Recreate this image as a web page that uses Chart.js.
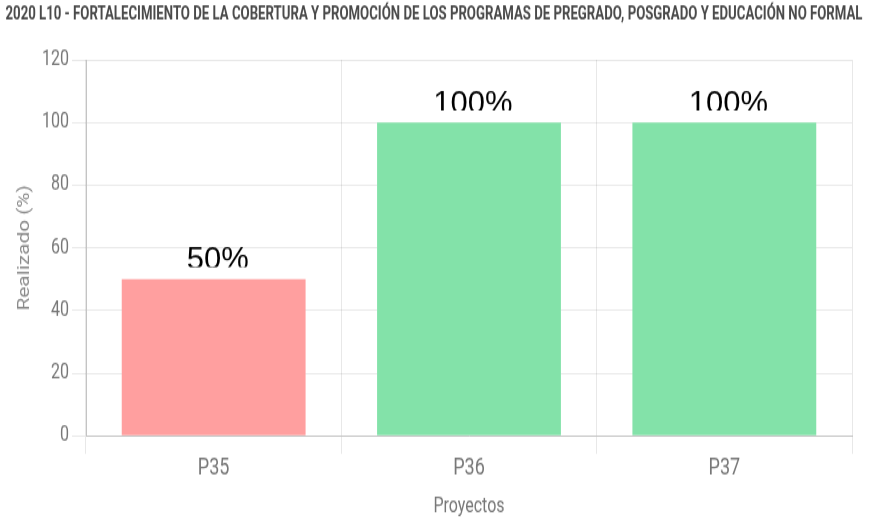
<!DOCTYPE html>
<html lang="es">
<head>
    <meta charset="UTF-8">
    <title>2020 L10 - Realizado por proyecto</title>
    <style>
        html {
            overflow: hidden;
        }
        body {
            margin: 0;
            padding: 0;
            background: #fff;
            height: 520px;
        }
        /* the reference picture is the chart stretched vertically, so draw at 400px and stretch */
        #chart-container {
            width: 876px;
            height: 400px;
            transform: scaleY(1.3);
            transform-origin: 0 0;
        }
    </style>
</head>
<body>
    <div id="chart-container">
        <canvas id="chart"></canvas>
    </div>

    <script src="https://cdn.jsdelivr.net/npm/chart.js"></script>
    <script>
        const chartTitle = '2020 L10 - FORTALECIMIENTO DE LA COBERTURA Y PROMOCIÓN DE LOS PROGRAMAS DE PREGRADO, POSGRADO Y EDUCACIÓN NO FORMAL';
        const categories = ['P35', 'P36', 'P37'];
        const realizado = [50, 100, 100];
        const yMin = 0;
        const yMax = 120;
        const yStep = 20;
        const xTitle = 'Proyectos';
        const yTitle = 'Realizado (%)';

        const barColors = ['#ff9f9f', '#83e2a9', '#83e2a9'];
        const stretch = 1.3;

        // title drawn condensed to fit the width, like the reference
        const condensedTitle = {
            id: 'condensedTitle',
            afterDraw(chart) {
                const ctx = chart.ctx;
                ctx.save();
                ctx.font = 'bold 14px Roboto';
                const w = ctx.measureText(chartTitle).width;
                const sx = Math.min(1, 857 / w);
                ctx.translate(chart.width / 2 - 4, 11.5);
                ctx.scale(sx, 1);
                ctx.textAlign = 'center';
                ctx.textBaseline = 'middle';
                ctx.fillStyle = '#4a4a4a';
                ctx.fillText(chartTitle, 0, 0);
                ctx.restore();
            }
        };

        // percentage labels above the bars (un-stretched, bottoms cut off)
        const valueLabels = {
            id: 'valueLabels',
            afterDatasetsDraw(chart) {
                const ctx = chart.ctx;
                const meta = chart.getDatasetMeta(0);
                meta.data.forEach((bar, i) => {
                    ctx.save();
                    ctx.translate(bar.x, bar.y);
                    ctx.scale(1, 1 / stretch);
                    ctx.beginPath();
                    ctx.rect(-80, -70, 160, 58);
                    ctx.clip();
                    ctx.font = '31px "Liberation Sans", Arial, sans-serif';
                    ctx.fillStyle = '#000';
                    ctx.textAlign = 'center';
                    ctx.textBaseline = 'alphabetic';
                    ctx.fillText(realizado[i] + '%', 4, -10);
                    ctx.restore();
                });
            }
        };

        const ctx = document.getElementById('chart').getContext('2d');
        const chart = new Chart(ctx, {
            type: 'bar',
            data: {
                labels: categories,
                datasets: [{
                    label: 'Realizado',
                    data: realizado,
                    backgroundColor: barColors,
                    borderWidth: 0
                }]
            },
            options: {
                responsive: true,
                maintainAspectRatio: false,
                animation: false,
                layout: {
                    padding: { top: 46, right: 24, bottom: 0, left: 15 }
                },
                plugins: {
                    legend: { display: false },
                    title: { display: false },
                    tooltip: { enabled: false }
                },
                scales: {
                    x: {
                        grid: {
                            color: 'rgba(0,0,0,0.09)',
                            tickLength: 14
                        },
                        border: { color: '#c4c4c4' },
                        ticks: {
                            color: '#777',
                            padding: 0,
                            font: { family: 'Roboto', size: 18 }
                        },
                        title: {
                            display: true,
                            text: xTitle,
                            color: '#777',
                            padding: { top: 10, bottom: 0 },
                            font: { family: 'Roboto', size: 16 }
                        }
                    },
                    y: {
                        min: yMin,
                        max: yMax,
                        grid: {
                            color: 'rgba(0,0,0,0.09)',
                            tickLength: 14
                        },
                        border: { color: '#c4c4c4' },
                        ticks: {
                            stepSize: yStep,
                            color: '#777',
                            padding: 3,
                            font: { family: 'Roboto', size: 16 }
                        },
                        title: {
                            display: true,
                            text: yTitle,
                            color: '#8a8a8a',
                            padding: { top: 0, bottom: 4 },
                            font: { family: 'Roboto', size: 16 }
                        },
                        afterFit(scale) {
                            scale.width = 71;
                        }
                    }
                }
            },
            plugins: [condensedTitle, valueLabels]
        });
    </script>
</body>
</html>
